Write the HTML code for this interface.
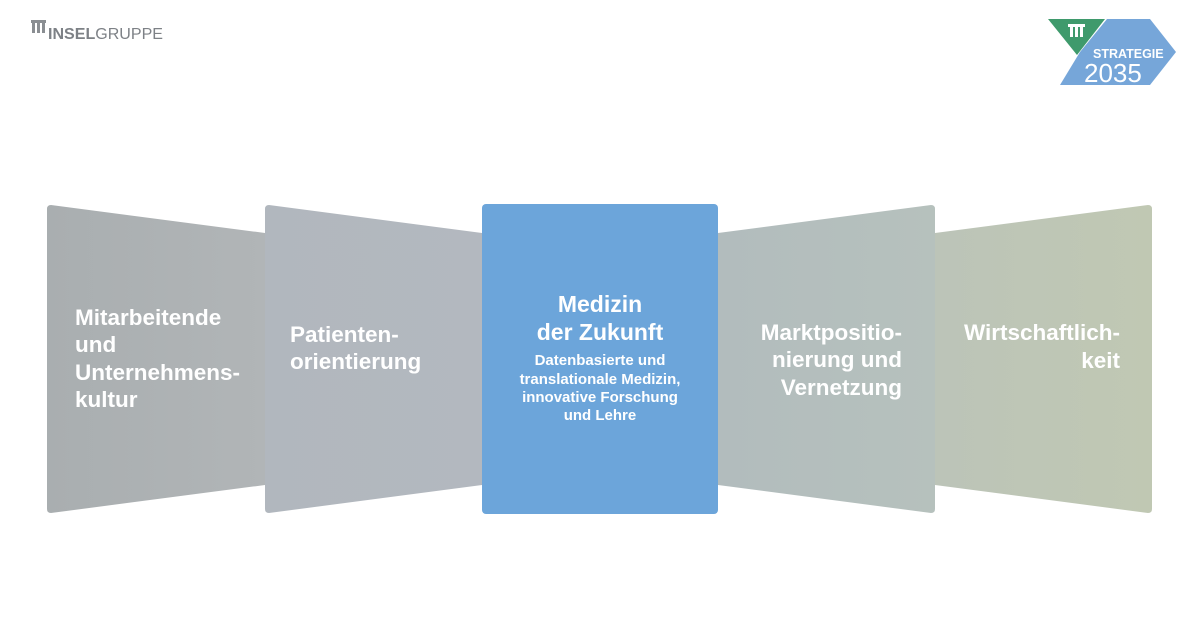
<!DOCTYPE html>
<html><head><meta charset="utf-8"><style>
html,body{margin:0;padding:0;background:#fff;width:1200px;height:630px;overflow:hidden}
svg{display:block}
text{font-family:"Liberation Sans",sans-serif;font-weight:bold;fill:#fff}
</style></head><body>
<svg width="1200" height="630" viewBox="0 0 1200 630" xmlns="http://www.w3.org/2000/svg">
<defs>
<linearGradient id="g1" x1="0" x2="1"><stop offset="0" stop-color="#a9aeb0"/><stop offset="1" stop-color="#b1b5b7"/></linearGradient>
<linearGradient id="g2" x1="0" x2="1"><stop offset="0" stop-color="#b1b7be"/><stop offset="1" stop-color="#b3b8bf"/></linearGradient>
<linearGradient id="g4" x1="0" x2="1"><stop offset="0" stop-color="#b2bcbd"/><stop offset="1" stop-color="#b6c1bd"/></linearGradient>
<linearGradient id="g5" x1="0" x2="1"><stop offset="0" stop-color="#bcc4b8"/><stop offset="1" stop-color="#c0c8b3"/></linearGradient>
</defs>
<g fill="#8a8e92">
<rect x="32" y="21" width="3" height="12"/><rect x="37" y="21" width="3" height="12"/><rect x="42" y="21" width="3" height="12"/>
<rect x="31" y="20" width="15" height="3"/>
</g>
<text x="48" y="39" style="font-size:16px;fill:#7d8186" textLength="115" lengthAdjust="spacingAndGlyphs">INSEL<tspan font-weight="normal">GRUPPE</tspan></text>
<polygon points="1107,19 1150,19 1176,52 1150,85 1060,85 1080,52" fill="#76a6d9"/>
<polygon points="1048,19 1105,19 1077,55" fill="#3f9a6c"/>
<g fill="#fff"><rect x="1070" y="26" width="3" height="11"/><rect x="1075" y="26" width="3" height="11"/><rect x="1080" y="26" width="3" height="11"/><rect x="1068" y="24" width="17" height="3"/></g>
<text x="1093" y="58" style="font-size:12.5px">STRATEGIE</text>
<text x="1084" y="82" style="font-size:26px;font-weight:normal">2035</text>
<path d="M51,205 L265,233 L265,485 L51,513 Q47,513 47,509 L47,209 Q47,205 51,205 Z" fill="url(#g1)"/>
<path d="M269,205 L482,233 L482,485 L269,513 Q265,513 265,509 L265,209 Q265,205 269,205 Z" fill="url(#g2)"/>
<path d="M931,205 L718,233 L718,485 L931,513 Q935,513 935,509 L935,209 Q935,205 931,205 Z" fill="url(#g4)"/>
<path d="M1148,205 L935,233 L935,485 L1148,513 Q1152,513 1152,509 L1152,209 Q1152,205 1148,205 Z" fill="url(#g5)"/>
<rect x="482" y="204" width="236" height="310" rx="4" fill="#6ca5da"/>
<g style="font-size:22.5px">
<text x="75" y="325">Mitarbeitende</text>
<text x="75" y="352">und</text>
<text x="75" y="380">Unternehmens-</text>
<text x="75" y="407">kultur</text>
<text x="290" y="342">Patienten-</text>
<text x="290" y="369">orientierung</text>
<text x="902" y="340" text-anchor="end">Marktpositio-</text>
<text x="902" y="367" text-anchor="end">nierung und</text>
<text x="902" y="395" text-anchor="end">Vernetzung</text>
<text x="1120" y="340" text-anchor="end">Wirtschaftlich-</text>
<text x="1120" y="368" text-anchor="end">keit</text>
</g>
<g text-anchor="middle">
<text x="600" y="312" style="font-size:23px">Medizin</text>
<text x="600" y="340" style="font-size:23px">der Zukunft</text>
<text x="600" y="365" style="font-size:15px">Datenbasierte und</text>
<text x="600" y="384" style="font-size:15px">translationale Medizin,</text>
<text x="600" y="402" style="font-size:15px">innovative Forschung</text>
<text x="600" y="420" style="font-size:15px">und Lehre</text>
</g>
</svg>
</body></html>
